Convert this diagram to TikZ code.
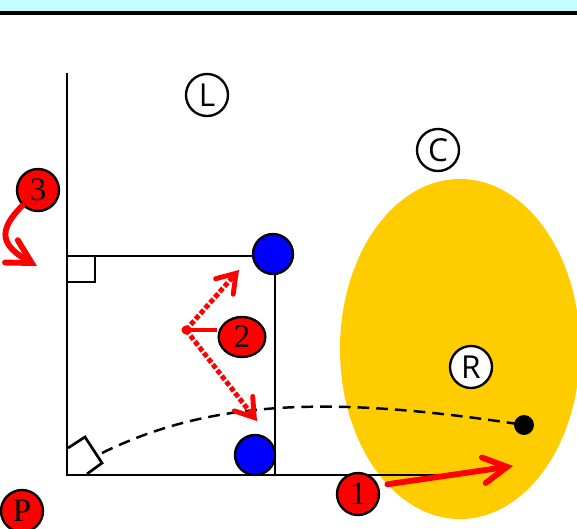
\documentclass[tikz,border=0pt]{standalone}
\usepackage{fontspec}
\setmainfont{Liberation Serif}
\newfontfamily\lettersans{Open Sans}
\usetikzlibrary{arrows.meta, calc, shapes.geometric}

\definecolor{bandcyan}{HTML}{C4FFFF}
\definecolor{ballyellow}{HTML}{FFCC00}

\begin{document}
\begin{tikzpicture}[x=0.03cm, y=-0.03cm,
    % Define the styles for the markers
    numdot/.style={circle, draw=black, line width=2pt, fill=red, inner sep=0pt,
        minimum size=1.26cm, font=\fontsize{28}{28}\selectfont},
    letterdot/.style={circle, draw=black, line width=2pt, fill=white, inner sep=0pt,
        minimum size=1.26cm, font=\lettersans\fontsize{27}{27}\selectfont},
    bluedot/.style={circle, draw=black, line width=2pt, fill=blue, inner sep=0pt, minimum size=1.2cm},
    field/.style={line width=2.3pt},
    move/.style={red, line width=5pt, line cap=round, -{Straight Barb[length=20pt, width=22pt, line cap=round]}},
    pass/.style={red, line width=4.2pt, dotted, -{Straight Barb[length=15pt, width=20pt, line cap=round]}}
]
\useasboundingbox (0,0) rectangle (577,529);

% Band at the top
\fill[bandcyan] (0,0) rectangle (577,11);
\draw[line width=3pt] (0,13) -- (577,13);

% Ball area
\fill[ballyellow] (460,349) ellipse [x radius=120, y radius=170];

% Define the corners of the box
\coordinate (TL) at (67,256);
\coordinate (TR) at (275,256);
\coordinate (BL) at (67,475);
\coordinate (BR) at (275,475);

% Draw the lines
\draw[field] (67,73) -- (BL) -- (440,475);
\draw[field] (TL) -- (TR) -- (BR);
\draw[field] (67,282) -| (95,256);
\draw[field] (68,448) -- (85,437) -- (102,463) -- (87,474);

% Dashed path to the ball
\coordinate (S) at (102,453);
\node[circle, fill=black, inner sep=0pt, minimum size=17] (ball) at (524,425) {};
\draw[line width=2.1pt, dash pattern=on 10pt off 6pt]
    (S) .. controls (210,400) and (330,395) .. (ball.center);

% Players
\node[bluedot] (b1) at (273,254) {};
\node[bluedot] (b2) at (255,455) {};

\node[letterdot] (L) at (207,95) {L};
\node[letterdot] (C) at (438,150) {C};
\node[letterdot] (R) at (471,367) {R};

\node[numdot, ellipse, minimum width=1.4cm, minimum height=1.2cm] (n2) at (242,337) {2};
\node[numdot] (n3) at (38,190) {3};
\node[numdot] (n1) at (358,494) {1};
\node[numdot] (P) at (22,511) {P};

% Draw the moves
\coordinate (piv) at (186,330);
\coordinate (m3) at (37,266);
\draw[red, line width=4pt] (piv) -- (piv -| n2.west);
\fill[red] (piv) circle (4.5);
\draw[pass] (piv) -- (239,270);
\draw[pass] (piv) -- (257,421);
\draw[move] (n1.15) ++(8,-4) coordinate (m1) -- (513,466);
\draw[move] (n3.225) .. controls (-4,232) and (2,246) .. (m3);

\end{tikzpicture}
\end{document}
